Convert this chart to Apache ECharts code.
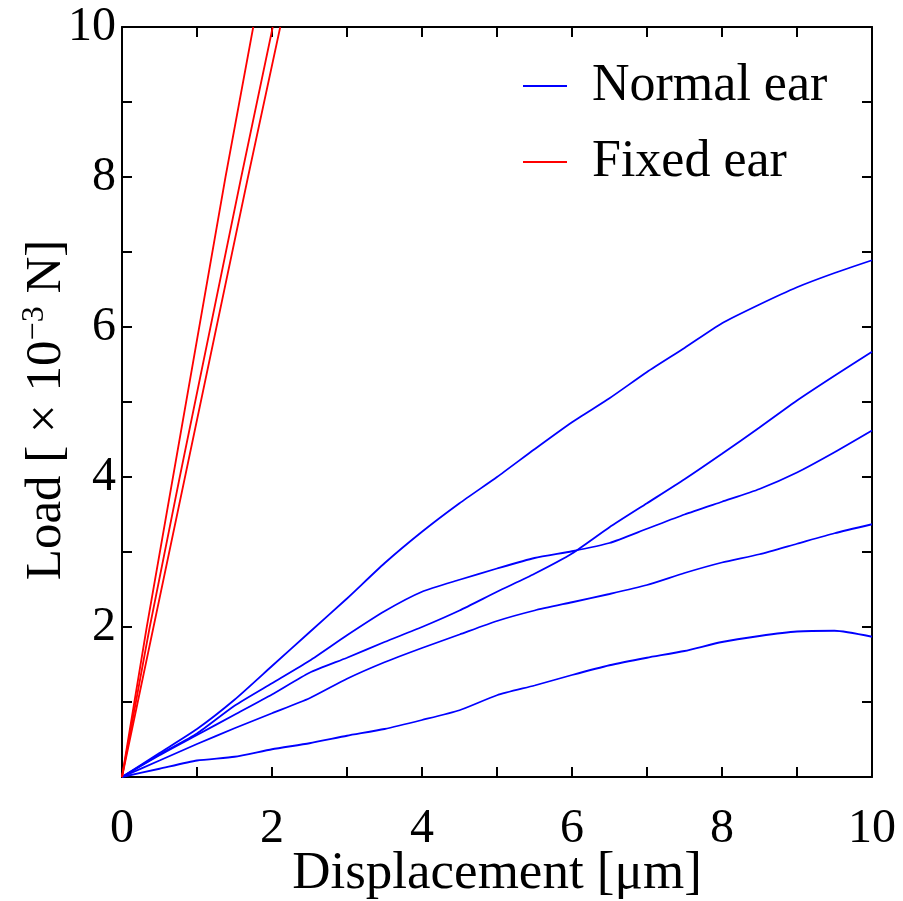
<!DOCTYPE html>
<html>
<head>
<meta charset="utf-8">
<script src="https://cdn.jsdelivr.net/npm/echarts@6/dist/echarts.min.js"></script>
<style>html,body{margin:0;padding:0;background:#fff;}#c{width:903px;height:901px;}</style>
</head>
<body>
<div id="c"></div>
<script>
// Displacement grid for the normal-ear curves [µm]
const dispNormal = [0,0.5,1,1.5,2,2.5,3,3.5,4,4.5,5,5.5,6,6.5,7,7.5,8,8.5,9,9.5,10];
// Load values [x10^-3 N]
const normal1 = [0,0.32,0.64,1.03,1.48,1.93,2.38,2.85,3.27,3.65,4.00,4.37,4.73,5.05,5.40,5.72,6.05,6.30,6.53,6.72,6.89];
const normal2 = [0,0.30,0.58,0.95,1.25,1.55,1.89,2.21,2.47,2.63,2.78,2.92,3.01,3.12,3.31,3.50,3.67,3.84,4.06,4.33,4.62];
const normal3 = [0,0.29,0.56,0.83,1.10,1.39,1.59,1.80,2.00,2.22,2.47,2.71,2.98,3.33,3.65,3.97,4.31,4.66,5.02,5.35,5.67];
const normal4 = [0,0.22,0.44,0.65,0.85,1.05,1.31,1.53,1.72,1.90,2.08,2.22,2.33,2.44,2.56,2.72,2.86,2.97,3.11,3.25,3.37];
const normal5 = [0,0.11,0.22,0.27,0.37,0.45,0.55,0.64,0.76,0.89,1.09,1.22,1.36,1.49,1.59,1.68,1.80,1.88,1.94,1.95,1.87];
// Fixed-ear curves: load levels and displacements
const loadFixed = [0,2,4,6,8,10];
const fixed1 = [0,0.33,0.68,1.03,1.38,1.75];
const fixed2 = [0,0.37,0.77,1.18,1.59,2.01];
const fixed3 = [0,0.42,0.84,1.26,1.68,2.11];
const xTicks = [0,2,4,6,8,10];
const yTicks = [2,4,6,8,10];

const FONT = 'Liberation Serif';
const chart = echarts.init(document.getElementById('c'));

function normalSeries(vals){
  return {name:'Normal ear', type:'line', xAxisIndex:0, yAxisIndex:0, showSymbol:false, symbol:'none',
    smooth:0.2,
    lineStyle:{color:'#0000ff', width:1.8}, itemStyle:{color:'#0000ff'}, animation:false,
    data: dispNormal.map((x,i)=>[x, vals[i]])};
}
function fixedSeries(disp){
  return {name:'Fixed ear', type:'line', xAxisIndex:0, yAxisIndex:0, showSymbol:false, symbol:'none',
    lineStyle:{color:'#ff0000', width:1.8}, itemStyle:{color:'#ff0000'}, animation:false,
    data: disp.map((x,i)=>[x, loadFixed[i]])};
}

const axisCommon = {
  min:0, max:10, interval:1,
  axisLine:{show:true, onZero:false, lineStyle:{color:'#000', width:2}},
  axisTick:{show:true, inside:true, length:10, lineStyle:{color:'#000', width:2}},
  splitLine:{show:false}
};

chart.setOption({
  animation:false,
  backgroundColor:'#fff',
  grid:{left:122, right:31, top:27, bottom:124, containLabel:false, outerBoundsMode:'none'},
  legend:{
    data:['Normal ear','Fixed ear'], orient:'vertical', left:523, top:60, padding:0,
    itemWidth:44, itemHeight:2, icon:'rect', itemGap:24,
    textStyle:{fontFamily:FONT, fontSize:52, color:'#000', padding:[0,0,0,20]}
  },
  xAxis:[
    Object.assign({}, axisCommon, {type:'value', position:'bottom',
      name:'Displacement [μm]', nameLocation:'middle', nameGap:71, nameMoveOverlap:false,
      nameTextStyle:{fontFamily:FONT, fontSize:53, color:'#000'},
      axisLabel:{show:true, margin:28, fontFamily:FONT, fontSize:48, color:'#000',
        formatter:v => xTicks.includes(v) ? String(v) : ''}}),
    Object.assign({}, axisCommon, {type:'value', position:'top', axisLabel:{show:false}})
  ],
  yAxis:[
    Object.assign({}, axisCommon, {type:'value', position:'left',
      axisLabel:{show:true, margin:6, fontFamily:FONT, fontSize:48, color:'#000',
        formatter:v => yTicks.includes(v) ? String(v) : ''}}),
    Object.assign({}, axisCommon, {type:'value', position:'right', axisLabel:{show:false}})
  ],
  graphic:[{
    type:'text', x:47, y:410, rotation:Math.PI/2,
    style:{
      text:'{t|Load [ × 10}{s|−3}{t| N]}',
      align:'center', verticalAlign:'middle',
      rich:{
        t:{fontFamily:FONT, fontSize:51, fill:'#000'},
        s:{fontFamily:FONT, fontSize:32, fill:'#000', verticalAlign:'top', padding:[0,0,24,0]}
      }
    }
  }],
  series:[
    normalSeries(normal1), normalSeries(normal2), normalSeries(normal3),
    normalSeries(normal4), normalSeries(normal5),
    fixedSeries(fixed1), fixedSeries(fixed2), fixedSeries(fixed3)
  ]
});
</script>
</body>
</html>
